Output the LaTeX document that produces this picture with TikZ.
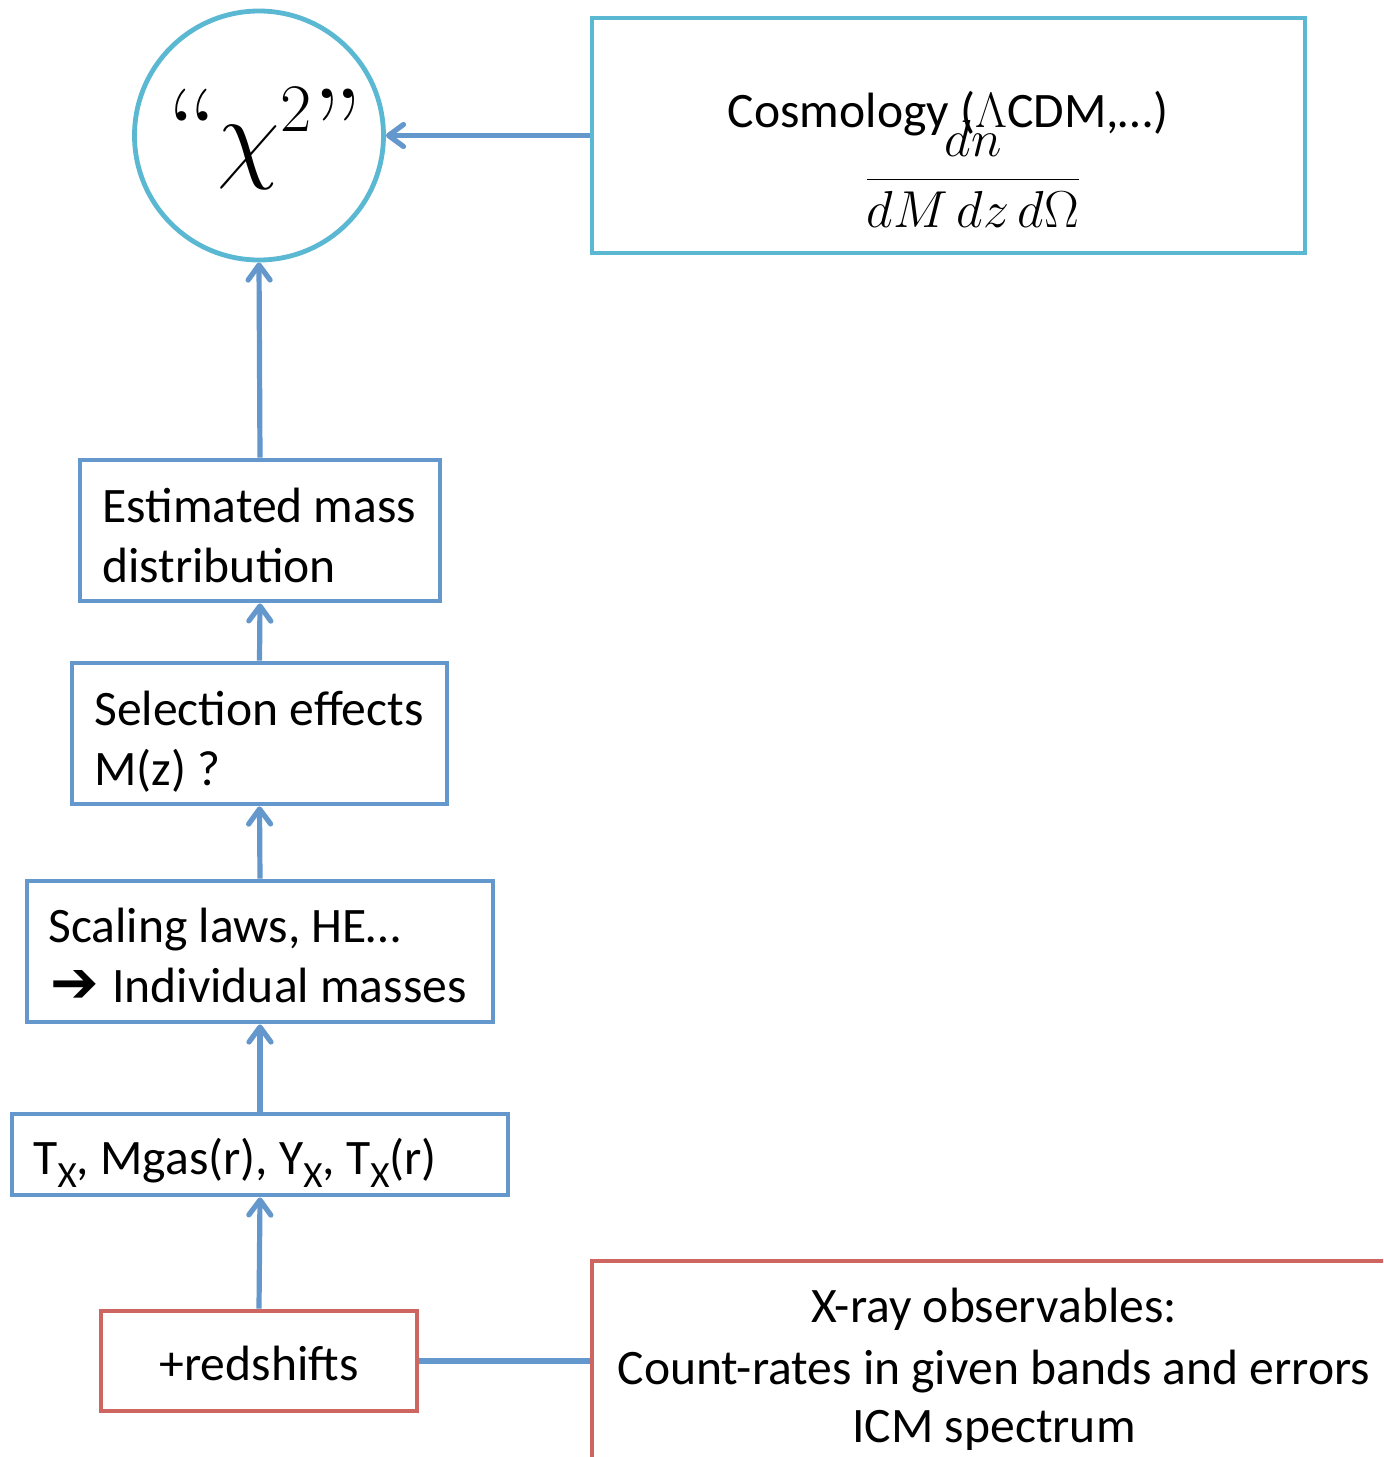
\documentclass[tikz,border=0pt]{standalone}
\usepackage{fix-cm}
\usepackage{fontspec}
\usetikzlibrary{arrows.meta}
\newfontfamily\calib{Carlito}
\newfontfamily\djv{DejaVu Sans}
\DeclareMathSizes{51}{51}{34}{24}
\definecolor{cyanline}{RGB}{91,184,210}
\definecolor{boxblue}{RGB}{100,152,204}
\definecolor{lineblue}{RGB}{100,152,204}
\definecolor{redline}{RGB}{205,102,96}
\newcommand{\subX}{\raisebox{-6.5pt}{\fontsize{18.5}{18.5}\selectfont X}}
\tikzset{
 box/.style={draw, line width=2.4pt, rectangle, inner sep=0pt},
 bb/.style={box, draw=boxblue},
 cb/.style={box, draw=cyanline},
 rb/.style={box, draw=redline},
 txt/.style={inner sep=0pt, font=\calib\fontsize{24.8}{30}\selectfont, anchor=base west},
 ctxt/.style={txt, anchor=base},
 conn/.style={draw=lineblue, line width=2.6pt},
 arr/.style={conn, -{Straight Barb[length=7.5pt,width=11pt,line cap=round,line join=round]}}
}
\begin{document}
\begin{tikzpicture}[x=0.5pt,y=-0.5pt]
\clip (0,0) rectangle (1383,1457);
\fill[white] (0,0) rectangle (1383,1457);
% boxes
\node[circle, draw=cyanline, line width=2.4pt, minimum size=124.5pt, inner sep=0pt] (chi) at (259,135.5) {};
\node[cb, minimum width=356.5pt, minimum height=117.5pt] (cosmo) at (948.5,135.5) {};
\node[bb, minimum width=180pt, minimum height=70.5pt] (est) at (260,530.5) {};
\node[bb, minimum width=187.5pt, minimum height=70.5pt] (sel) at (259.5,733.5) {};
\node[bb, minimum width=233pt, minimum height=70.5pt] (scal) at (260,951.5) {};
\node[bb, minimum width=248pt, minimum height=40.5pt] (tx) at (260,1154.5) {};
\node[rb, minimum width=158pt, minimum height=50pt] (red) at (259,1361) {};
\node[rb, minimum width=402pt, minimum height=100pt] (xray) at (994,1361) {};
% texts
\node[inner sep=0pt, anchor=base] (chitxt) at (265,169) {{\fontsize{58}{60}\selectfont “}{\fontsize{51}{60}\selectfont$\chi^2$}{\fontsize{58}{60}\selectfont ”}};
\node[ctxt] (cosmotxt) at (948,127) {Cosmology ($\Lambda$CDM,…)};
\node[inner sep=0pt, anchor=base] (frac) at (973,192) {\fontsize{26}{30}\selectfont $\displaystyle\frac{dn}{dM\,dz\,d\Omega}$};
\node[txt] (est1) at (102,522) {Estimated mass};
\node[txt] (est2) at (102,582) {distribution};
\node[txt] (sel1) at (94,725) {Selection effects};
\node[txt] (sel2) at (94,785) {M(z) ?};
\node[txt] (scal1) at (48,942) {Scaling laws, HE…};
\node[txt] (scal2) at (50,1002) {{\djv\bfseries\fontsize{29}{30}\selectfont ➔}\hspace{1pt} Individual masses};
\node[txt] (txt1) at (33,1174) {T\subX, Mgas(r), Y\subX, T\subX(r)};
\node[ctxt] (redtxt) at (259,1380) {+redshifts};
\node[ctxt] (x1) at (994,1322) {X-ray observables:};
\node[ctxt] (x2) at (994,1384) {Count-rates in given bands and errors};
\node[ctxt] (x3) at (994,1442) {ICM spectrum};
% connectors
\draw[arr] (cosmo.west) -- (chi.east);
\draw[arr] (est.north) -- (chi.south);
\draw[arr] (sel.north) -- (est.south);
\draw[arr] (scal.north) -- (sel.south);
\draw[arr] (tx.north) -- (scal.south);
\draw[arr] (red.north) -- (tx.south);
\draw[conn] (red.east) -- (xray.west);
\end{tikzpicture}
\end{document}
